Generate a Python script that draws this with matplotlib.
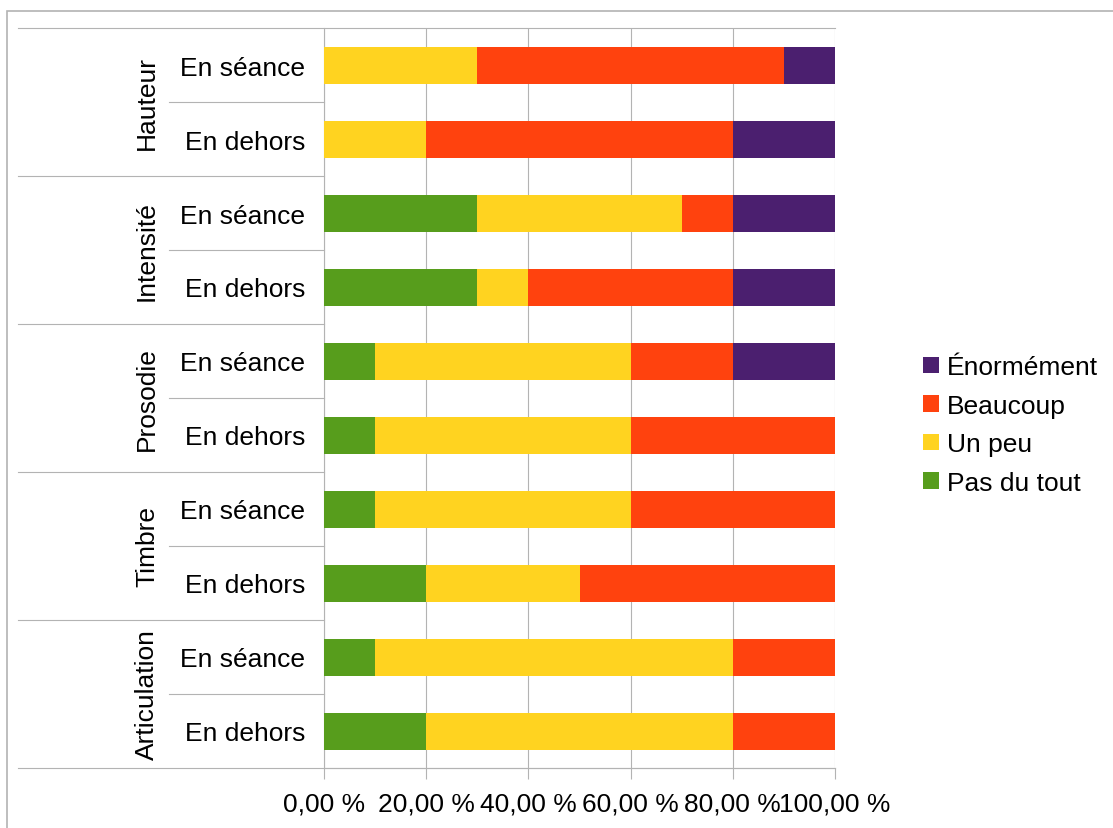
import numpy as np
import matplotlib

matplotlib.use("Agg")
import matplotlib.pyplot as plt
from matplotlib.patches import Rectangle

plt.rcParams["font.family"] = ["Liberation Sans", "DejaVu Sans"]

# Hierarchical categories: each group has two contexts
groups = ["Hauteur", "Intensité", "Prosodie", "Timbre", "Articulation"]
contexts = ["En séance", "En dehors"]

series_names = ["Pas du tout", "Un peu", "Beaucoup", "Énormément"]
series_colors = ["#579d1c", "#ffd320", "#ff420e", "#4b1f6f"]

# Percentages per row, top to bottom (group x context)
pas_du_tout = [0, 0, 30, 30, 10, 10, 10, 20, 10, 20]
un_peu = [30, 20, 40, 10, 50, 50, 50, 30, 70, 60]
beaucoup = [60, 60, 10, 40, 20, 40, 40, 50, 20, 20]
enormement = [10, 20, 20, 20, 20, 0, 0, 0, 0, 0]

x_ticks = [0, 20, 40, 60, 80, 100]
x_tick_labels = ["0,00 %", "20,00 %", "40,00 %", "60,00 %", "80,00 %", "100,00 %"]

W, H = 1113, 829
LINE = "#b3b3b3"
FS = 19

fig = plt.figure(figsize=(W / 100, H / 100), dpi=100)
fig.patch.set_facecolor("white")
ax = fig.add_axes([324 / W, 1 - 769 / H, 511 / W, 740 / H])

rows = np.arange(len(groups) * len(contexts))
left = np.zeros(len(rows))
handles = []
for name, color, values in zip(
    series_names, series_colors, [pas_du_tout, un_peu, beaucoup, enormement]
):
    vals = np.array(values, dtype=float)
    bars = ax.barh(rows, vals, left=left, height=0.5, color=color, label=name,
                   linewidth=0, zorder=3)
    handles.append(bars)
    left += vals

ax.set_xlim(0, 100)
ax.set_ylim(len(rows) - 0.5, -0.5)

ax.set_xticks(x_ticks)
ax.set_xticklabels(x_tick_labels, fontsize=FS)
ax.tick_params(axis="x", length=8, width=0.8, color=LINE, pad=9)
ax.xaxis.grid(True, color=LINE, linewidth=0.8, zorder=0)

ax.set_yticks(rows)
ax.set_yticklabels(contexts * len(groups), fontsize=FS)
ax.tick_params(axis="y", length=0, pad=13.5)

for side in ["top", "right"]:
    ax.spines[side].set_visible(False)
for side in ["left", "bottom"]:
    ax.spines[side].set_color(LINE)
    ax.spines[side].set_linewidth(0.8)

# Separator lines for the two-level category axis
trans = ax.get_yaxis_transform()
x_outer = (18 - 324) / 511
x_inner = (169 - 324) / 511
for y in [-0.5, len(rows) - 0.5]:
    ax.plot([x_outer, 1], [y, y], color=LINE, lw=0.8, transform=trans,
            clip_on=False, zorder=1)
for g in range(1, len(groups)):
    y = g * 2 - 0.5
    ax.plot([x_outer, 0], [y, y], color=LINE, lw=0.8, transform=trans,
            clip_on=False)
for g in range(len(groups)):
    y = g * 2 + 0.5
    ax.plot([x_inner, 0], [y, y], color=LINE, lw=0.8, transform=trans,
            clip_on=False)
    ax.text((147 - 324) / 511, g * 2 + 0.5, groups[g], rotation=90,
            ha="center", va="center", fontsize=FS, transform=trans)

fig.legend(handles=handles[::-1], labels=series_names[::-1], loc="center left",
           bbox_to_anchor=(923 / W, 1 - 426 / H), frameon=False, fontsize=FS,
           handlelength=0.6, handleheight=0.6, handletextpad=0.3,
           labelspacing=0.55, borderpad=0, borderaxespad=0)

# Outer chart frame
fig.patches.append(Rectangle((7 / W, -0.05), 1.2, 1 - 12 / H + 0.05,
                             transform=fig.transFigure, fill=False,
                             edgecolor=LINE, linewidth=1.2))

fig.savefig("out.png", dpi=100)
